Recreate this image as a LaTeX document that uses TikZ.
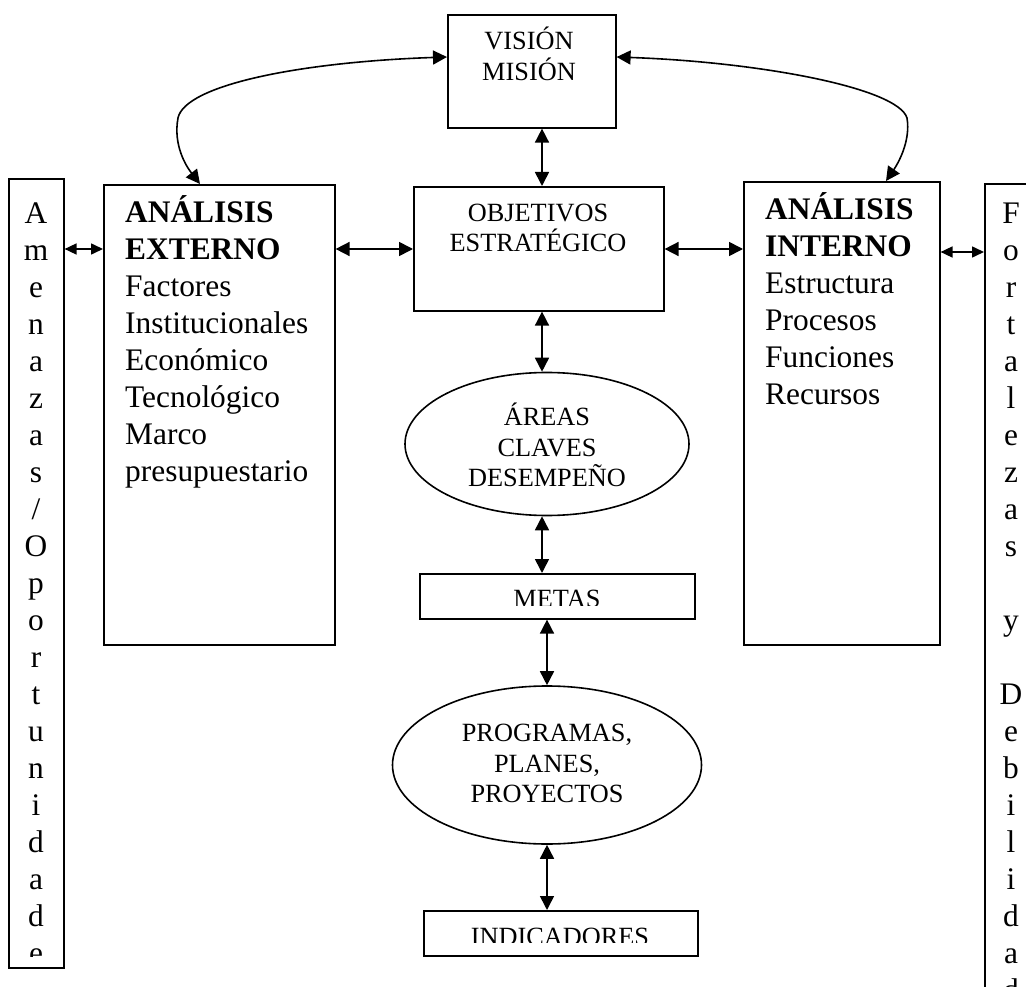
\documentclass[tikz,border=0pt]{standalone}
\usepackage{fontspec}
\setmainfont{Liberation Serif}
\usepackage{tikz}
\usetikzlibrary{arrows.meta,calc,shapes.geometric}

\tikzset{
  caja/.style={draw,line width=1.6pt,inner sep=0pt,anchor=north west},
  elipse/.style={draw,ellipse,line width=1.6pt,inner sep=0pt},
  texto/.style={font=\fontsize{26.3}{30.5}\selectfont,align=center,inner sep=0pt},
  textolado/.style={font=\fontsize{31.4}{37}\selectfont,align=left,inner sep=0pt,anchor=west},
  letras/.style={font=\fontsize{31.4}{37}\selectfont,align=center,inner sep=0pt},
  flecha/.style={line width=1.6pt,{Triangle[length=14pt,width=14pt]}-{Triangle[length=14pt,width=14pt]}},
  flechita/.style={line width=1.6pt,{Triangle[length=12pt,width=11pt]}-{Triangle[length=12pt,width=11pt]}},
}

\begin{document}
\begin{tikzpicture}[x=1pt,y=-1pt]
  \useasboundingbox (0,0) rectangle (1026,987);
  \clip (0,0) rectangle (1026,987);
  \fill[white] (0,0) rectangle (1026,987);

  % Columna central
  \node[caja,minimum width=168pt,minimum height=113pt] (vis) at (447,14) {};
  \node[texto] (visT) at (529,54) {VISIÓN\\MISIÓN};
  \node[caja,minimum width=250pt,minimum height=124pt] (obj) at (413,186) {};
  \node[texto] (objT) at (538,228) {OBJETIVOS\\ESTRATÉGICO};
  \node[elipse,minimum width=284pt,minimum height=143pt] (areas) at (547,444) {};
  \node[texto] (areasT) at (547,445) {ÁREAS\\CLAVES\\DESEMPEÑO};
  \node[caja,minimum width=275pt,minimum height=45pt] (metas) at (419,573) {};
  \begin{scope}
    \clip (420,574) rectangle (693,605);
    \node[texto,anchor=base] (metasT) at (557,607) {METAS};
  \end{scope}
  \node[elipse,minimum width=309pt,minimum height=158pt] (prog) at (547,765) {};
  \node[texto] (progT) at (547,763.5) {PROGRAMAS,\\PLANES,\\PROYECTOS};
  \node[caja,minimum width=274pt,minimum height=45pt] (ind) at (423,910) {};
  \begin{scope}
    \clip (424,911) rectangle (696,942);
    \node[texto,anchor=base] (indT) at (560,945) {INDICADORES};
  \end{scope}

  % Analisis externo e interno
  \node[caja,minimum width=231pt,minimum height=460pt] (ext) at (103,184) {};
  \node[textolado] (extT) at (125,342) {\textbf{ANÁLISIS}\\\textbf{EXTERNO}\\Factores\\Institucionales\\Económico\\Tecnológico\\Marco\\presupuestario};
  \node[caja,minimum width=196pt,minimum height=463pt] (int) at (743,181) {};
  \node[textolado] (intT) at (765,299) {\textbf{ANÁLISIS}\\\textbf{INTERNO}\\Estructura\\Procesos\\Funciones\\Recursos};

  % Columnas laterales
  \node[caja,minimum width=55pt,minimum height=789pt] (ame) at (8,178) {};
  \begin{scope}
    \clip (ame.north west) rectangle ($(ame.south east)+(0,-12)$);
    \node[letras] (ameT) at (36,583) {A\\m\\e\\n\\a\\z\\a\\s\\/\\O\\p\\o\\r\\t\\u\\n\\i\\d\\a\\d\\e};
  \end{scope}
  \node[caja,minimum width=80pt,minimum height=900pt] (fort) at (984,183) {};
  \node[letras] (fortT) at (1011,601.5) {F\\o\\r\\t\\a\\l\\e\\z\\a\\s\\~\\y\\~\\D\\e\\b\\i\\l\\i\\d\\a\\d};

  % Flechas
  \coordinate (eje) at (542,0);
  \coordinate (fila) at (0,249);
  \draw[flecha] (vis.south -| eje) -- (obj.north -| eje);
  \draw[flecha] (obj.south -| eje) -- (areas.north -| eje);
  \draw[flecha] (areas.south -| eje) -- (metas.north -| eje);
  \draw[flecha] (metas.south -| prog.north) -- (prog.north);
  \draw[flecha] (prog.south) -- (ind.north -| prog.south);
  \draw[flechita] (ame.east |- fila) -- (ext.west |- fila);
  \draw[flecha] (ext.east |- fila) -- (obj.west |- fila);
  \draw[flecha] (obj.east |- fila) -- (int.west |- fila);
  \draw[flechita] ($(int.east |- fila)+(0,3)$) -- ($(fort.west |- fila)+(0,3)$);
  \draw[flecha] ($(vis.north west)+(0,43)$) .. controls (300,62) and (185,85) .. (178,118)
    .. controls (173,145) and (186,166) .. ($(ext.north west)+(97,0)$);
  \draw[flecha] ($(vis.north east)+(0,43)$) .. controls (760,62) and (898,88) .. (907,118)
    .. controls (911,142) and (897,165) .. ($(int.north west)+(143,0)$);
\end{tikzpicture}
\end{document}
